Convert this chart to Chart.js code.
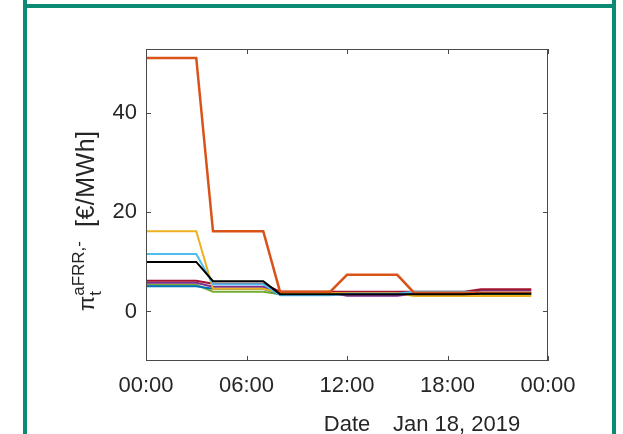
<!DOCTYPE html>
<html lang="en">
<head>
    <meta charset="UTF-8">
    <title>aFRR price</title>
    <script src="https://cdn.jsdelivr.net/npm/chart.js"></script>
    <style>
        html, body { margin: 0; padding: 0; background: #fff; }
        #wrap { position: relative; width: 623px; height: 434px; overflow: hidden; }
        canvas { position: absolute; left: 0; top: 0; }
        .frame { position: absolute; background: #0b8a74; }
    </style>
</head>
<body>
    <div id="wrap">
        <canvas id="myChart" width="623" height="434"></canvas>
        <div class="frame" style="left:23px; top:0; width:4px; height:434px;"></div>
        <div class="frame" style="left:612px; top:0; width:4px; height:434px;"></div>
        <div class="frame" style="left:23px; top:4px; width:593px; height:4px;"></div>
    </div>

    <script>
        // hourly values, Jan 18 2019
        const hours = [0, 1, 2, 3, 4, 5, 6, 7, 8, 9, 10, 11, 12, 13, 14, 15, 16, 17, 18, 19, 20, 21, 22, 23];
        const xTickValues = [0, 6, 12, 18, 24];
        const xTickLabels = ['00:00', '06:00', '12:00', '18:00', '00:00'];
        const yTickValues = [0, 20, 40];

        const priceBlack  = [10.0, 10.0, 10.0, 10.0, 6.1, 6.1, 6.1, 6.1, 3.5, 3.5, 3.5, 3.5, 3.5, 3.5, 3.5, 3.5, 3.5, 3.5, 3.5, 3.5, 3.6, 3.6, 3.6, 3.6];
        const priceOrange = [51.2, 51.2, 51.2, 51.2, 16.2, 16.2, 16.2, 16.2, 4.0, 4.0, 4.0, 4.0, 7.4, 7.4, 7.4, 7.4, 3.8, 3.8, 3.8, 3.8, 3.8, 3.8, 3.8, 3.8];
        const priceLBlue  = [11.6, 11.6, 11.6, 11.6, 5.5, 5.5, 5.5, 5.5, 3.3, 3.3, 3.3, 3.3, 3.6, 3.6, 3.6, 3.6, 4.0, 4.0, 4.0, 4.0, 3.8, 3.8, 3.8, 3.8];
        const priceYellow = [16.2, 16.2, 16.2, 16.2, 4.6, 4.6, 4.6, 4.6, 3.7, 3.7, 3.7, 3.7, 3.7, 3.7, 3.7, 3.7, 3.1, 3.1, 3.1, 3.1, 3.1, 3.1, 3.1, 3.1];
        const priceRed    = [6.2, 6.2, 6.2, 6.2, 5.6, 5.6, 5.6, 5.6, 4.0, 4.0, 4.0, 4.0, 4.0, 4.0, 4.0, 4.0, 4.0, 4.0, 4.0, 4.0, 4.5, 4.5, 4.5, 4.5];
        const pricePurple = [5.8, 5.8, 5.8, 5.8, 5.0, 5.0, 5.0, 5.0, 3.8, 3.8, 3.8, 3.8, 3.2, 3.2, 3.2, 3.2, 3.6, 3.6, 3.6, 3.6, 4.3, 4.3, 4.3, 4.3];
        const priceBlue   = [5.1, 5.1, 5.1, 5.1, 4.6, 4.6, 4.6, 4.6, 3.5, 3.5, 3.5, 3.5, 3.5, 3.5, 3.5, 3.5, 3.5, 3.5, 3.5, 3.5, 3.7, 3.7, 3.7, 3.7];
        const priceGreen  = [5.4, 5.4, 5.4, 5.4, 4.0, 4.0, 4.0, 4.0, 3.5, 3.5, 3.5, 3.5, 3.5, 3.5, 3.5, 3.5, 3.5, 3.5, 3.5, 3.5, 3.4, 3.4, 3.4, 3.4];

        const FONT = 'Liberation Sans, Arial, Helvetica, sans-serif';
        const TXT = '#262626';

        function pts(vals) {
            return hours.map((h, i) => ({ x: h, y: vals[i] }));
        }

        // box around the axes with inward ticks (MATLAB look)
        const boxPlugin = {
            id: 'box',
            afterDraw(chart) {
                const ctx = chart.ctx;
                const a = chart.chartArea;
                const xs = chart.scales.x, ys = chart.scales.y;
                ctx.save();
                ctx.strokeStyle = '#4a4a4a';
                ctx.lineWidth = 1;
                ctx.strokeRect(a.left + 0.5, a.top + 0.5, a.right - a.left - 1, a.bottom - a.top - 1);
                ctx.beginPath();
                xTickValues.forEach(v => {
                    const px = Math.round(xs.getPixelForValue(v)) + 0.5;
                    ctx.moveTo(px, a.bottom); ctx.lineTo(px, a.bottom - 5);
                    ctx.moveTo(px, a.top); ctx.lineTo(px, a.top + 5);
                });
                yTickValues.forEach(v => {
                    const py = Math.round(ys.getPixelForValue(v)) + 0.5;
                    ctx.moveTo(a.left, py); ctx.lineTo(a.left + 5, py);
                    ctx.moveTo(a.right, py); ctx.lineTo(a.right - 5, py);
                });
                ctx.stroke();
                ctx.restore();
            }
        };

        // y label with sub/superscript, plus x label and date
        const labelPlugin = {
            id: 'labels',
            afterDraw(chart) {
                const ctx = chart.ctx;
                const a = chart.chartArea;
                ctx.save();
                ctx.fillStyle = TXT;
                ctx.textBaseline = 'alphabetic';

                // x label
                ctx.font = '22px ' + FONT;
                ctx.textAlign = 'center';
                ctx.fillText('Date', (a.left + a.right) / 2, 431);
                ctx.textAlign = 'left';
                ctx.fillText('Jan 18, 2019', 393, 431);

                // y label, drawn upward from its bottom end
                const big = '22px ' + FONT, small = '17px ' + FONT;
                ctx.font = big;
                const wPi = ctx.measureText('\u03c0').width;
                ctx.font = small;
                const wSup = ctx.measureText('aFRR,-').width;
                const wSub = ctx.measureText('t').width;
                ctx.translate(94, 311);
                ctx.rotate(-Math.PI / 2);
                let x = 0;
                ctx.font = big;
                ctx.fillText('\u03c0', x, 0);
                x += wPi;
                ctx.font = small;
                ctx.fillText('t', x, 7);
                ctx.fillText('aFRR,-', x, -10);
                x += Math.max(wSup, wSub);
                ctx.font = '25px ' + FONT;
                ctx.letterSpacing = '0.5px';
                ctx.fillText('[\u20ac/MWh]', 84, 0);
                ctx.restore();
            }
        };

        const ctx = document.getElementById('myChart').getContext('2d');
        const myChart = new Chart(ctx, {
            type: 'line',
            data: {
                datasets: [
                    { data: pts(priceBlack),  borderColor: '#000000' },
                    { data: pts(priceOrange), borderColor: '#D95319', borderWidth: 2.5 },
                    { data: pts(priceLBlue),  borderColor: '#4DBEEE' },
                    { data: pts(priceYellow), borderColor: '#EDB120' },
                    { data: pts(priceRed),    borderColor: '#A2142F' },
                    { data: pts(pricePurple), borderColor: '#7E2F8E' },
                    { data: pts(priceBlue),   borderColor: '#0072BD' },
                    { data: pts(priceGreen),  borderColor: '#77AC30' }
                ]
            },
            options: {
                responsive: false,
                animation: false,
                layout: { padding: { top: 49, right: 75, left: 0, bottom: 0 } },
                plugins: { legend: { display: false }, tooltip: { enabled: false } },
                elements: {
                    point: { radius: 0 },
                    line: { tension: 0, borderWidth: 2, fill: false }
                },
                scales: {
                    x: {
                        type: 'linear',
                        min: 0,
                        max: 24,
                        afterBuildTicks: s => { s.ticks = xTickValues.map(v => ({ value: v })); },
                        afterFit: s => { s.height = 434 - 361; },
                        grid: { display: false, drawTicks: false },
                        border: { display: false },
                        ticks: {
                            callback: (v, i) => xTickLabels[i],
                            color: TXT,
                            font: { family: FONT, size: 22 },
                            padding: 12,
                            maxRotation: 0,
                            autoSkip: false
                        }
                    },
                    y: {
                        min: -10,
                        max: 53,
                        afterBuildTicks: s => { s.ticks = yTickValues.map(v => ({ value: v })); },
                        afterFit: s => { s.width = 146; },
                        grid: { display: false, drawTicks: false },
                        border: { display: false },
                        ticks: {
                            color: TXT,
                            font: { family: FONT, size: 22 },
                            padding: 9
                        }
                    }
                }
            },
            plugins: [boxPlugin, labelPlugin]
        });
    </script>
</body>
</html>
